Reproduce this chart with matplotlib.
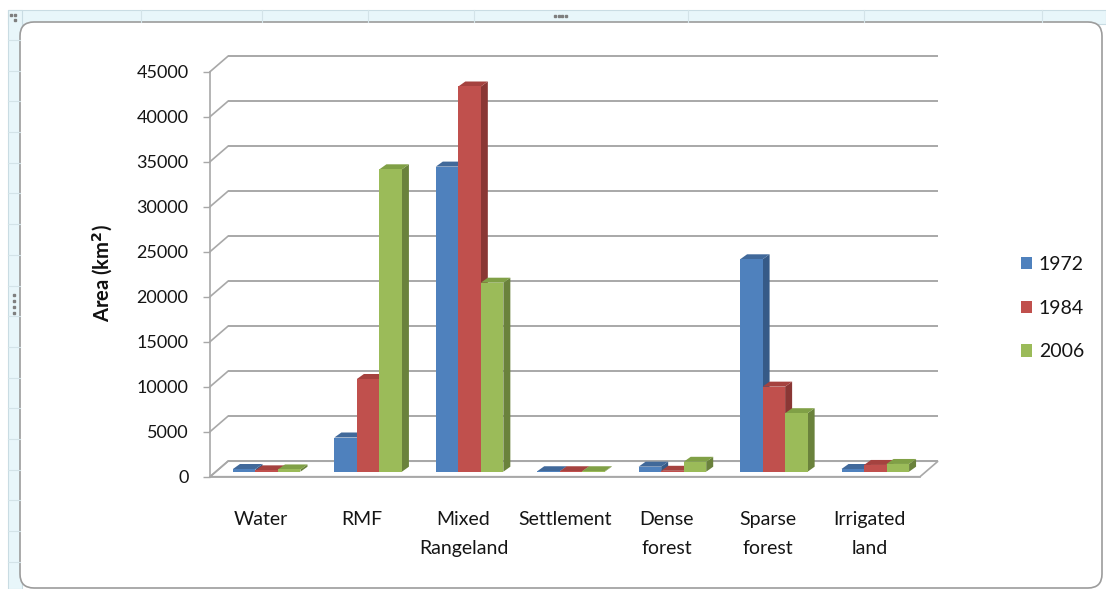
import matplotlib
matplotlib.use("Agg")
import matplotlib.pyplot as plt
from matplotlib.patches import Polygon, Rectangle, FancyBboxPatch
from matplotlib.transforms import ScaledTranslation

# ---- data -------------------------------------------------------------
categories = ["Water", "RMF", "Mixed\nRangeland", "Settlement",
              "Dense\nforest", "Sparse\nforest", "Irrigated\nland"]
years = ["1972", "1984", "2006"]
area_1972 = [300, 3800, 33900, 50, 560, 23600, 300]
area_1984 = [150, 10300, 42800, 50, 100, 9450, 750]
area_2006 = [250, 33600, 21000, 50, 1100, 6500, 860]
y_ticks = [0, 5000, 10000, 15000, 20000, 25000, 30000, 35000, 40000, 45000]

series = [area_1972, area_1984, area_2006]

# Office-style palette: front, top and side shades of each column
front_col = ["#4F81BD", "#C0504D", "#9BBB59"]
top_col = ["#41699A", "#A5423F", "#80A046"]
side_col = ["#365A87", "#8A3735", "#6A823C"]
grid_col = "#A8A8A8"
text_col = "#151515"

W, H = 1106, 589
plt.rcParams["font.family"] = ["Lato", "DejaVu Sans"]
fig = plt.figure(figsize=(W / 100, H / 100), dpi=100)

# ---- workbook frame behind the chart ----------------------------------
bg = fig.add_axes([0, 0, 1, 1], zorder=-5)
bg.set_xlim(0, W)
bg.set_ylim(H, 0)
bg.axis("off")
strip = "#E8F6FA"
bg.add_patch(Rectangle((8, 10), W - 8, 14, facecolor=strip, edgecolor="#C9DCE3", lw=0.8))
bg.add_patch(Rectangle((8, 10), 14, H - 10, facecolor=strip, edgecolor="#C9DCE3", lw=0.8))
for x in [141, 262, 368, 474, 688, 864, 1042]:
    bg.plot([x, x], [10, 22], color="#D3E3E8", lw=0.8)
y = 40.0
while y < H:
    bg.plot([8, 20], [y, y], color="#D3E3E8", lw=0.8)
    y += 30.7
for x in [555, 558.5, 562, 565.5]:
    bg.plot(x, 15.5, "s", ms=1.6, color="#7F7F7F")
for yy in [295, 301, 307, 313]:
    bg.plot(14, yy, "s", ms=1.8, color="#7F7F7F")
for (x, yy) in [(11, 15), (15, 15), (15, 20)]:
    bg.plot(x, yy, "s", ms=1.5, color="#7F7F7F")
bg.add_patch(FancyBboxPatch((20, 22), 1082, 566,
                            boxstyle="round,pad=0,rounding_size=14",
                            facecolor="white", edgecolor="#9C9C9C", lw=1.2))

# ---- plotting axes (front plane of the 3-D box) -----------------------
x0, x1 = 210, 920
y_base, y_top = 476.7, 71.7
ax = fig.add_axes([x0 / W, (H - y_base) / H, (x1 - x0) / W, (y_base - y_top) / H])
ax.set_xlim(0, len(categories))
ax.set_ylim(0, 45000)
ax.patch.set_alpha(0)

sx = len(categories) / (x1 - x0)      # data units per pixel, x
sy = 45000 / (y_base - y_top)         # data units per pixel, y

# back wall depth and column depth, in pixels
wall_dx, wall_dy = 18, 15.5
col_dx, col_dy = 7, 5

wx, wy = wall_dx * sx, wall_dy * sy

# floor
ax.add_patch(Polygon([(0, 0), (7, 0), (7 + wx, wy), (wx, wy)], closed=True,
                     facecolor="white", edgecolor=grid_col, lw=1.2,
                     clip_on=False, zorder=1))
# gridlines on the back wall with their connectors to the front axis
for v in y_ticks:
    ax.plot([wx, 7 + wx], [v + wy, v + wy], color=grid_col, lw=1.4,
            clip_on=False, zorder=1, solid_capstyle="butt")
    ax.plot([0, wx], [v, v + wy], color=grid_col, lw=1.2, clip_on=False, zorder=1)

for s in ["top", "right", "bottom"]:
    ax.spines[s].set_visible(False)
ax.spines["left"].set_color(grid_col)
ax.spines["left"].set_linewidth(1.2)
ax.plot([0, 7], [0, 0], color=grid_col, lw=1.2, clip_on=False, zorder=1)

# ---- 3-D columns ------------------------------------------------------
col_shift = ax.transData + ScaledTranslation(6 / 100, 5 / 100, fig.dpi_scale_trans)
bw = 0.222
ddx, ddy = col_dx * sx, col_dy * sy
for i in range(len(categories)):
    c = i + 0.5
    for j, vals in enumerate(series):
        v = vals[i]
        left = c - 1.5 * bw + j * bw
        right = left + bw
        ax.add_patch(Polygon([(right, 0), (right + ddx, ddy), (right + ddx, v + ddy), (right, v)],
                             closed=True, facecolor=side_col[j], edgecolor="none",
                             transform=col_shift, clip_on=False, zorder=3))
        ax.add_patch(Polygon([(left, v), (right, v), (right + ddx, v + ddy), (left + ddx, v + ddy)],
                             closed=True, facecolor=top_col[j], edgecolor="none",
                             transform=col_shift, clip_on=False, zorder=3))
        ax.bar(left, v, width=bw, align="edge", color=front_col[j], edgecolor="none",
               transform=col_shift, clip_on=False, zorder=3,
               label=years[j] if i == 0 else None)

# ---- axes text --------------------------------------------------------
ax.set_yticks(y_ticks)
ax.set_yticklabels([str(t) for t in y_ticks])
ax.tick_params(axis="y", length=5, width=1.0, color=grid_col, pad=10.5,
               labelsize=13, labelcolor=text_col)
ax.set_xticks([i + 0.5 for i in range(len(categories))])
ax.set_xticklabels(categories, linespacing=1.85)
ax.tick_params(axis="x", length=0, pad=24.5, labelsize=14, labelcolor=text_col)

fig.text(103 / W, 1 - 273 / H, "Area (km$^\\mathbf{2}$)", rotation=90,
         fontsize=14.5, fontweight="bold", ha="center", va="center", color="#111111")

handles = [Rectangle((0, 0), 1, 1, facecolor=front_col[j]) for j in range(3)]
fig.legend(handles, years, loc="upper left",
           bbox_to_anchor=(1011 / W, 1 - 246 / H), bbox_transform=fig.transFigure,
           frameon=False, fontsize=14, handlelength=0.58, handleheight=0.58,
           handletextpad=0.35, labelspacing=1.38, borderpad=0, labelcolor=text_col)

fig.savefig("out.png", dpi=100)
